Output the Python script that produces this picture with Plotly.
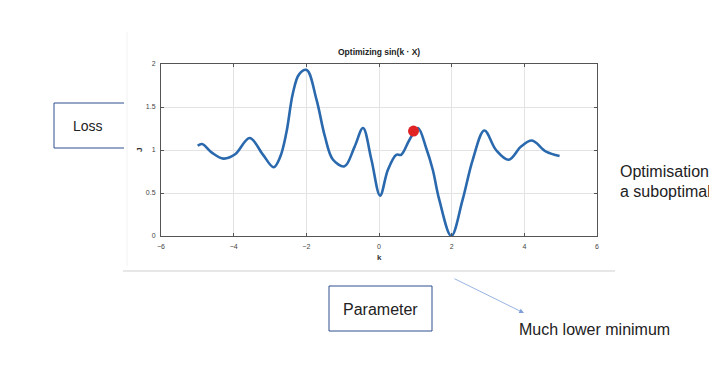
import plotly.graph_objects as go

# ---- data ----
k_vals = [-4.99, -4.87, -4.6, -4.28, -3.96, -3.56, -3.2, -2.90, -2.72, -2.55, -2.37, -2.2, -1.99,
          -1.72, -1.49, -1.27, -0.95, -0.67, -0.44, -0.21, 0.03, 0.245, 0.475, 0.61, 0.84, 1.07,
          1.3, 1.48, 1.66, 1.99, 2.30, 2.58, 2.90, 3.22, 3.57, 3.91, 4.21, 4.60, 4.97]
j_vals = [1.05, 1.07, 0.97, 0.90, 0.95, 1.14, 0.95, 0.80, 0.92, 1.20, 1.66, 1.88, 1.93,
          1.585, 1.16, 0.89, 0.81, 1.04, 1.255, 0.89, 0.47, 0.77, 0.944, 0.944, 1.12, 1.255,
          1.02, 0.77, 0.42, 0.0, 0.42, 0.886, 1.227, 1.0, 0.886, 1.04, 1.11, 0.98, 0.93]
point_k = [0.95]
point_j = [1.22]
x_ticks = [-6, -4, -2, 0, 2, 4, 6]
y_ticks = [0, 0.5, 1, 1.5, 2]
y_tick_text = ["0", "0.5", "1", "1.5", "2"]

# page body has an 8px margin, so the figure starts at (8, 8) in the window
OFF = 8
WIN_W, WIN_H = 717, 377
PLOT_X0, PLOT_X1 = 161, 597   # window pixels of k=-6 and k=6
PLOT_Y0, PLOT_Y1 = 64, 236    # window pixels of J=2 and J=0
PW, PH = PLOT_X1 - PLOT_X0, PLOT_Y1 - PLOT_Y0
W, H = WIN_W - OFF, WIN_H - OFF
L, T = PLOT_X0 - OFF, PLOT_Y0 - OFF
R, B = W - L - PW, H - T - PH


def px(x):
    return (x - PLOT_X0) / PW


def py(y):
    return (PLOT_Y1 - y) / PH


fig = go.Figure()
fig.add_trace(go.Scatter(x=k_vals, y=j_vals, mode="lines",
                         line=dict(color="#2a69ad", width=2.6, shape="spline", smoothing=1.0),
                         hoverinfo="skip", showlegend=False))
fig.add_trace(go.Scatter(x=point_k, y=point_j, mode="markers",
                         marker=dict(color="#e02424", size=11),
                         showlegend=False))

axis_common = dict(showline=True, linecolor="#555555", linewidth=1, mirror="ticks",
                   ticks="inside", ticklen=3, tickcolor="#555555", showgrid=True,
                   gridcolor="#e3e3e3", gridwidth=1, zeroline=False, automargin=False,
                   tickfont=dict(family="Liberation Sans", size=7, color="#444444"))
fig.update_xaxes(range=[-6, 6], tickvals=x_ticks, ticklabelstandoff=4, **axis_common)
fig.update_yaxes(range=[0, 2], tickvals=y_ticks, ticktext=y_tick_text, ticklabelstandoff=3, **axis_common)

slide_font = dict(family="Liberation Sans", size=16, color="#222222")
ann = [
    dict(x=px(379), y=py(52), text="<b>Optimizing sin(k · X)</b>", showarrow=False,
         font=dict(family="Liberation Sans", size=8.5, color="#222222")),
    dict(x=px(379), y=py(257), text="<b>k</b>", showarrow=False,
         font=dict(family="Liberation Sans", size=8, color="#333333")),
    dict(x=px(139), y=py(150), text="<b>J</b>", showarrow=False, textangle=-90,
         font=dict(family="Liberation Sans", size=8, color="#333333")),
    dict(x=px(88), y=py(126), text="Loss", showarrow=False,
         font=dict(family="Liberation Sans", size=14, color="#222222")),
    dict(x=px(380), y=py(309), text="Parameter", showarrow=False, font=slide_font),
    dict(x=px(517), y=py(329), text="Much lower minimum", showarrow=False,
         xanchor="left", font=slide_font),
    dict(x=px(618), y=py(171), text="Optimisation", showarrow=False,
         xanchor="left", font=slide_font),
    dict(x=px(618), y=py(191), text="a suboptimal", showarrow=False,
         xanchor="left", font=slide_font),
]
for a in ann:
    a.setdefault("xanchor", "center")
    a.setdefault("yanchor", "middle")
ann.append(dict(x=px(524), y=py(313), ax=453 - 524, ay=278 - 313, text="", showarrow=True,
                arrowhead=2, arrowsize=1.2, arrowwidth=0.8, arrowcolor="#7f9fd8"))
for a in ann:
    a.setdefault("xref", "paper")
    a.setdefault("yref", "paper")
fig.update_layout(annotations=ann)

box_col = "#2f4f8f"
shapes = [
    # image bottom edge and faint left edge
    dict(type="line", x0=px(123), x1=px(615), y0=py(271), y1=py(271),
         line=dict(color="#cfcfcf", width=1.2)),
    dict(type="line", x0=px(127), x1=px(127), y0=py(32), y1=py(266),
         line=dict(color="#f2f2f2", width=1)),
    # Loss box (right side hidden)
    dict(type="line", x0=px(54), x1=px(124), y0=py(103), y1=py(103), line=dict(color=box_col, width=1)),
    dict(type="line", x0=px(54), x1=px(124), y0=py(148), y1=py(148), line=dict(color=box_col, width=1)),
    dict(type="line", x0=px(54), x1=px(54), y0=py(103), y1=py(148), line=dict(color=box_col, width=1)),
    # Parameter box
    dict(type="rect", x0=px(329), x1=px(432), y0=py(286), y1=py(331), line=dict(color=box_col, width=1)),
]
for s in shapes:
    s["xref"] = "paper"
    s["yref"] = "paper"
fig.update_layout(shapes=shapes)

fig.update_layout(width=W, height=H, margin=dict(l=L, r=R, t=T, b=B, pad=0),
                  paper_bgcolor="white", plot_bgcolor="white", showlegend=False)

fig.write_html("out.html")
